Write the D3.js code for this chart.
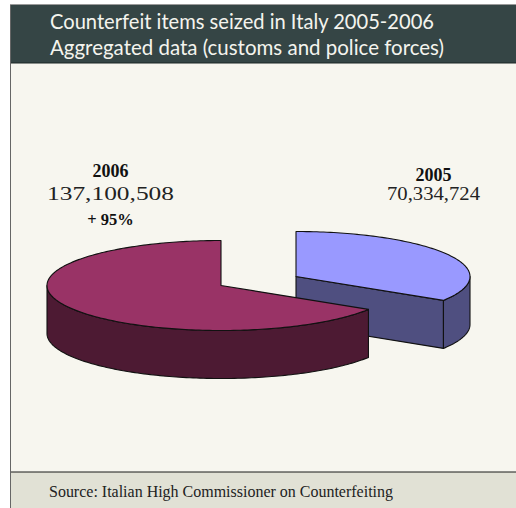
<!DOCTYPE html>
<html>
<head>
<meta charset="utf-8">
<script src="https://cdn.jsdelivr.net/npm/d3@7"></script>
<style>
html,body{margin:0;padding:0;background:#fff;overflow:hidden}
svg{display:block}
</style>
</head>
<body>
<svg id="chart" width="516" height="508"></svg>
<script>
// Seizure totals per year
const years = ["2005", "2006"];
const seized = [70334724, 137100508];
const change = [null, "+ 95%"];
const titleLines = ["Counterfeit items seized in Italy 2005-2006", "Aggregated data (customs and police forces)"];
const sourceNote = "Source: Italian High Commissioner on Counterfeiting";
const topColors = ["#9999ff", "#993366"];
const wallColors = ["#4f4f80", "#4d1a33"];

const svg = d3.select("#chart");
const W = 516, H = 508;
const panelX = 10, panelTop = 5, headerBottom = 63, footerTop = 472;

// Panel, header band and footer band
svg.append("rect").attr("x", panelX).attr("y", panelTop).attr("width", W - panelX).attr("height", H - panelTop).attr("fill", "#f7f6ef");
svg.append("rect").attr("x", panelX).attr("y", panelTop).attr("width", W - panelX).attr("height", headerBottom - panelTop).attr("fill", "#354545");
svg.append("rect").attr("x", panelX).attr("y", footerTop).attr("width", W - panelX).attr("height", H - footerTop).attr("fill", "#e1e1d5");
svg.append("line").attr("x1", panelX).attr("x2", W).attr("y1", panelTop - .5).attr("y2", panelTop - .5).attr("stroke", "#9a9a9a");
svg.append("line").attr("x1", panelX).attr("x2", W).attr("y1", headerBottom).attr("y2", headerBottom).attr("stroke", "#1c2626").attr("stroke-width", 1.2);
svg.append("line").attr("x1", panelX).attr("x2", W).attr("y1", footerTop).attr("y2", footerTop).attr("stroke", "#1a1a1a").attr("stroke-width", 1.2);
svg.append("line").attr("x1", panelX + .5).attr("x2", panelX + .5).attr("y1", panelTop).attr("y2", H).attr("stroke", "#666");

const titleWidths = [384, 394];
svg.selectAll("text.title").data(titleLines).join("text")
  .attr("class", "title")
  .attr("x", 50).attr("y", (d, i) => 29 + i * 26)
  .attr("font-family", "Lato, sans-serif").attr("font-size", 20.5).attr("fill", "#f4f4ee")
  .attr("textLength", (d, i) => titleWidths[i]).attr("lengthAdjust", "spacingAndGlyphs")
  .text(d => d);

svg.append("text").attr("x", 49).attr("y", 497)
  .attr("font-family", "'Liberation Serif', serif").attr("font-size", 16).attr("fill", "#222")
  .attr("textLength", 344).attr("lengthAdjust", "spacingAndGlyphs")
  .text(sourceNote);

// Tilted pie: unit-circle angles from d3.pie, projected onto an ellipse
const rx = 174, ry = 45, depth = 48;
const pie = d3.pie().value(d => d).sort(null);
const arcs = pie(seized);
const radiusX = d3.scaleLinear().domain([0, 1]).range([0, rx]);
const radiusY = d3.scaleLinear().domain([0, 1]).range([0, ry]);
const centers = [{x: 296, y: 276.5}, {x: 221, y: 285.5}];
const rim = (c, a, dy = 0) => [c.x + radiusX(Math.sin(a)), c.y - radiusY(Math.cos(a)) + dy];
const arcPoints = (c, a0, a1, dy = 0) => {
  const n = Math.max(2, Math.ceil(Math.abs(a1 - a0) / 0.02));
  return d3.range(n + 1).map(i => rim(c, a0 + (a1 - a0) * i / n, dy));
};
const line = d3.line();
const closed = pts => line(pts) + "Z";
const stroke = g => g.attr("stroke", "#111").attr("stroke-width", 1.1).attr("stroke-linejoin", "round");

// The 2005 slice sits behind, pulled out to the upper right
const drawOrder = [0, 1];
drawOrder.forEach(i => {
  const c = centers[i], a = arcs[i];
  const start = a.startAngle, end = a.endAngle;
  const g = svg.append("g").call(stroke);
  // Front-facing part of the curved wall, lower half of the ellipse only
  const w0 = Math.max(start, Math.PI / 2), w1 = Math.min(end, Math.PI * 1.5);
  if (i === 0) {
    // Cut face along the slice's closing radius
    const p = rim(c, end);
    g.append("path").attr("fill", wallColors[i])
      .attr("d", closed([[c.x, c.y], p, [p[0], p[1] + depth], [c.x, c.y + depth]]));
  }
  g.append("path").attr("fill", wallColors[i])
    .attr("d", closed(arcPoints(c, w0, w1).concat(arcPoints(c, w1, w0, depth))));
  // Top face
  g.append("path").attr("fill", topColors[i])
    .attr("d", closed([[c.x, c.y]].concat(arcPoints(c, start, end))));
});

// Year and value labels
const labelX = [433.5, 110.5];
const labelTop = [181, 177];
const valueWidth = [93, 127];
const fmt = d3.format(",");
const serif = "'Liberation Serif', serif";
years.forEach((y, i) => {
  svg.append("text").attr("x", labelX[i]).attr("y", labelTop[i]).attr("text-anchor", "middle")
    .attr("font-family", serif).attr("font-size", 18).attr("font-weight", "bold").attr("fill", "#111").text(y);
  svg.append("text").attr("x", labelX[i]).attr("y", labelTop[i] + (i ? 23 : 19)).attr("text-anchor", "middle")
    .attr("font-family", serif).attr("font-size", 18).attr("fill", "#222")
    .attr("textLength", valueWidth[i]).attr("lengthAdjust", "spacingAndGlyphs").text(fmt(seized[i]));
  if (change[i]) {
    svg.append("text").attr("x", labelX[i]).attr("y", labelTop[i] + 48).attr("text-anchor", "middle")
      .attr("font-family", serif).attr("font-size", 16.5).attr("font-weight", "bold").attr("fill", "#111").text(change[i]);
  }
});
</script>
</body>
</html>
